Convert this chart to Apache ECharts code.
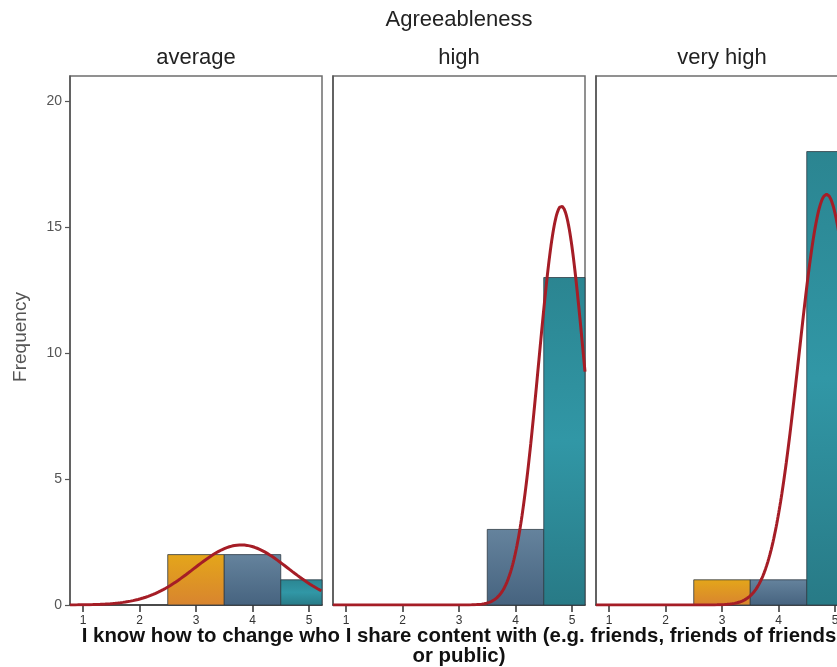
<!DOCTYPE html>
<html>
<head>
<meta charset="utf-8">
<script src="https://cdn.jsdelivr.net/npm/echarts@6/dist/echarts.min.js"></script>
<style>
  html, body { margin: 0; padding: 0; background: #fff; }
  #chart { width: 837px; height: 667px; }
</style>
</head>
<body>
<div id="chart"></div>
<script>
// Response scores (histogram bins, width 1) and frequencies per Agreeableness group
const panelNames = ['average', 'high', 'very high'];
const scoreBins = [1, 2, 3, 4, 5];
const countsAverage = [0, 0, 2, 2, 1];
const countsHigh = [0, 0, 0, 3, 13];
const countsVeryHigh = [0, 0, 1, 1, 18];
const frequencyTicks = [0, 5, 10, 15, 20];

const groupTitle = 'Agreeableness';
const xTitleLines = [
  'I know how to change who I share content with (e.g. friends, friends of friends',
  'or public)'
];
const yTitle = 'Frequency';

const panelCounts = [countsAverage, countsHigh, countsVeryHigh];

// Panel geometry (the last panel runs past the right edge of the canvas)
const GRID_TOP = 76, GRID_H = 529, GRID_W = 252;
const gridLefts = [70, 333, 596];
const X_MIN = 0.77, X_MAX = 5.23, Y_MAX = 21;

const REG = '"Liberation Sans", Arial, sans-serif';

// Bar fill per score value
function binFill(score) {
  const G = echarts.graphic.LinearGradient;
  if (score <= 3) return new G(0, 0, 0, 1, [
    { offset: 0, color: '#e4a61a' }, { offset: 1, color: '#d8842f' }]);
  if (score === 4) return new G(0, 0, 0, 1, [
    { offset: 0, color: '#65839d' }, { offset: 1, color: '#46637f' }]);
  return new G(0, 0, 0, 1, [
    { offset: 0, color: '#2b8591' }, { offset: 0.5, color: '#3197a6' }, { offset: 1, color: '#287a86' }]);
}

// Normal curve fitted to a group's scores (mean, sample SD), scaled to counts per unit bin
function normalCurve(counts) {
  let n = 0, sum = 0;
  counts.forEach((c, i) => { n += c; sum += c * scoreBins[i]; });
  const mean = sum / n;
  let ss = 0;
  counts.forEach((c, i) => { ss += c * (scoreBins[i] - mean) ** 2; });
  const sd = Math.sqrt(ss / (n - 1));
  const pts = [];
  const steps = 400;
  for (let k = 0; k <= steps; k++) {
    const x = X_MIN + (X_MAX - X_MIN) * k / steps;
    const z = (x - mean) / sd;
    pts.push([x, n / (sd * Math.sqrt(2 * Math.PI)) * Math.exp(-z * z / 2)]);
  }
  return pts;
}

function renderBin(params, api) {
  const score = api.value(0);
  const count = api.value(1);
  const topLeft = api.coord([score - 0.5, count]);
  const bottomRight = api.coord([score + 0.5, 0]);
  const cs = params.coordSys;
  const rect = echarts.graphic.clipRectByRect(
    { x: topLeft[0], y: topLeft[1], width: bottomRight[0] - topLeft[0], height: bottomRight[1] - topLeft[1] },
    { x: cs.x, y: cs.y, width: cs.width, height: cs.height }
  );
  if (!rect) return;
  return {
    type: 'rect',
    shape: rect,
    style: { fill: binFill(score), stroke: '#2e3a44', lineWidth: 0.8 }
  };
}

const grids = [], xAxes = [], yAxes = [], series = [];
panelNames.forEach((name, i) => {
  grids.push({
    left: gridLefts[i], top: GRID_TOP, width: GRID_W, height: GRID_H,
    containLabel: false, outerBoundsMode: 'none',
    show: true, borderColor: '#6e6e6e', borderWidth: 1.5, backgroundColor: 'transparent'
  });
  xAxes.push({
    type: 'value', gridIndex: i, min: X_MIN, max: X_MAX,
    splitLine: { show: false },
    axisLine: { show: true, onZero: false, lineStyle: { color: '#333', width: 1.5 } },
    axisTick: { show: true, customValues: scoreBins, length: 7, lineStyle: { color: '#333', width: 1.5 } },
    axisLabel: { customValues: scoreBins, margin: 10, fontSize: 12, color: '#333', fontFamily: REG }
  });
  yAxes.push({
    type: 'value', gridIndex: i, min: 0, max: Y_MAX,
    splitLine: { show: false },
    axisLine: { show: true, lineStyle: { color: '#555', width: 1.5 } },
    axisTick: { show: i === 0, customValues: frequencyTicks, length: 5, lineStyle: { color: '#555', width: 1.2 } },
    axisLabel: { show: i === 0, customValues: frequencyTicks, margin: 8, fontSize: 14, color: '#555', fontFamily: REG }
  });
  const counts = panelCounts[i];
  series.push({
    type: 'custom', xAxisIndex: i, yAxisIndex: i, z: 2,
    renderItem: renderBin,
    data: scoreBins.map((b, j) => [b, counts[j]]).filter(d => d[1] > 0)
  });
  series.push({
    type: 'line', xAxisIndex: i, yAxisIndex: i, z: 3,
    showSymbol: false, symbol: 'none', clip: true, silent: true,
    lineStyle: { color: '#a51d26', width: 3 },
    data: normalCurve(counts)
  });
});

const graphics = [
  { type: 'text', x: 459, y: 20,
    style: { text: groupTitle, fontSize: 22, fontFamily: REG, fill: '#222', align: 'center', verticalAlign: 'middle' } },
  { type: 'text', x: 21, y: 337, rotation: Math.PI / 2,
    style: { text: yTitle, fontSize: 19, fontFamily: REG, fill: '#555', align: 'center', verticalAlign: 'middle' } },
  { type: 'text', x: 459, y: 636,
    style: { text: xTitleLines[0], fontSize: 20.4, fontWeight: 'bold', fontFamily: REG, fill: '#111', align: 'center', verticalAlign: 'middle' } },
  { type: 'text', x: 459, y: 656,
    style: { text: xTitleLines[1], fontSize: 20.4, fontWeight: 'bold', fontFamily: REG, fill: '#111', align: 'center', verticalAlign: 'middle' } }
];
panelNames.forEach((name, i) => {
  graphics.push({ type: 'text', x: gridLefts[i] + GRID_W / 2, y: 58,
    style: { text: name, fontSize: 22, fontFamily: REG, fill: '#222', align: 'center', verticalAlign: 'middle' } });
});

const chart = echarts.init(document.getElementById('chart'), null, { renderer: 'canvas' });
chart.setOption({
  animation: false,
  backgroundColor: '#fff',
  grid: grids,
  xAxis: xAxes,
  yAxis: yAxes,
  series: series,
  graphic: graphics
});
</script>
</body>
</html>
